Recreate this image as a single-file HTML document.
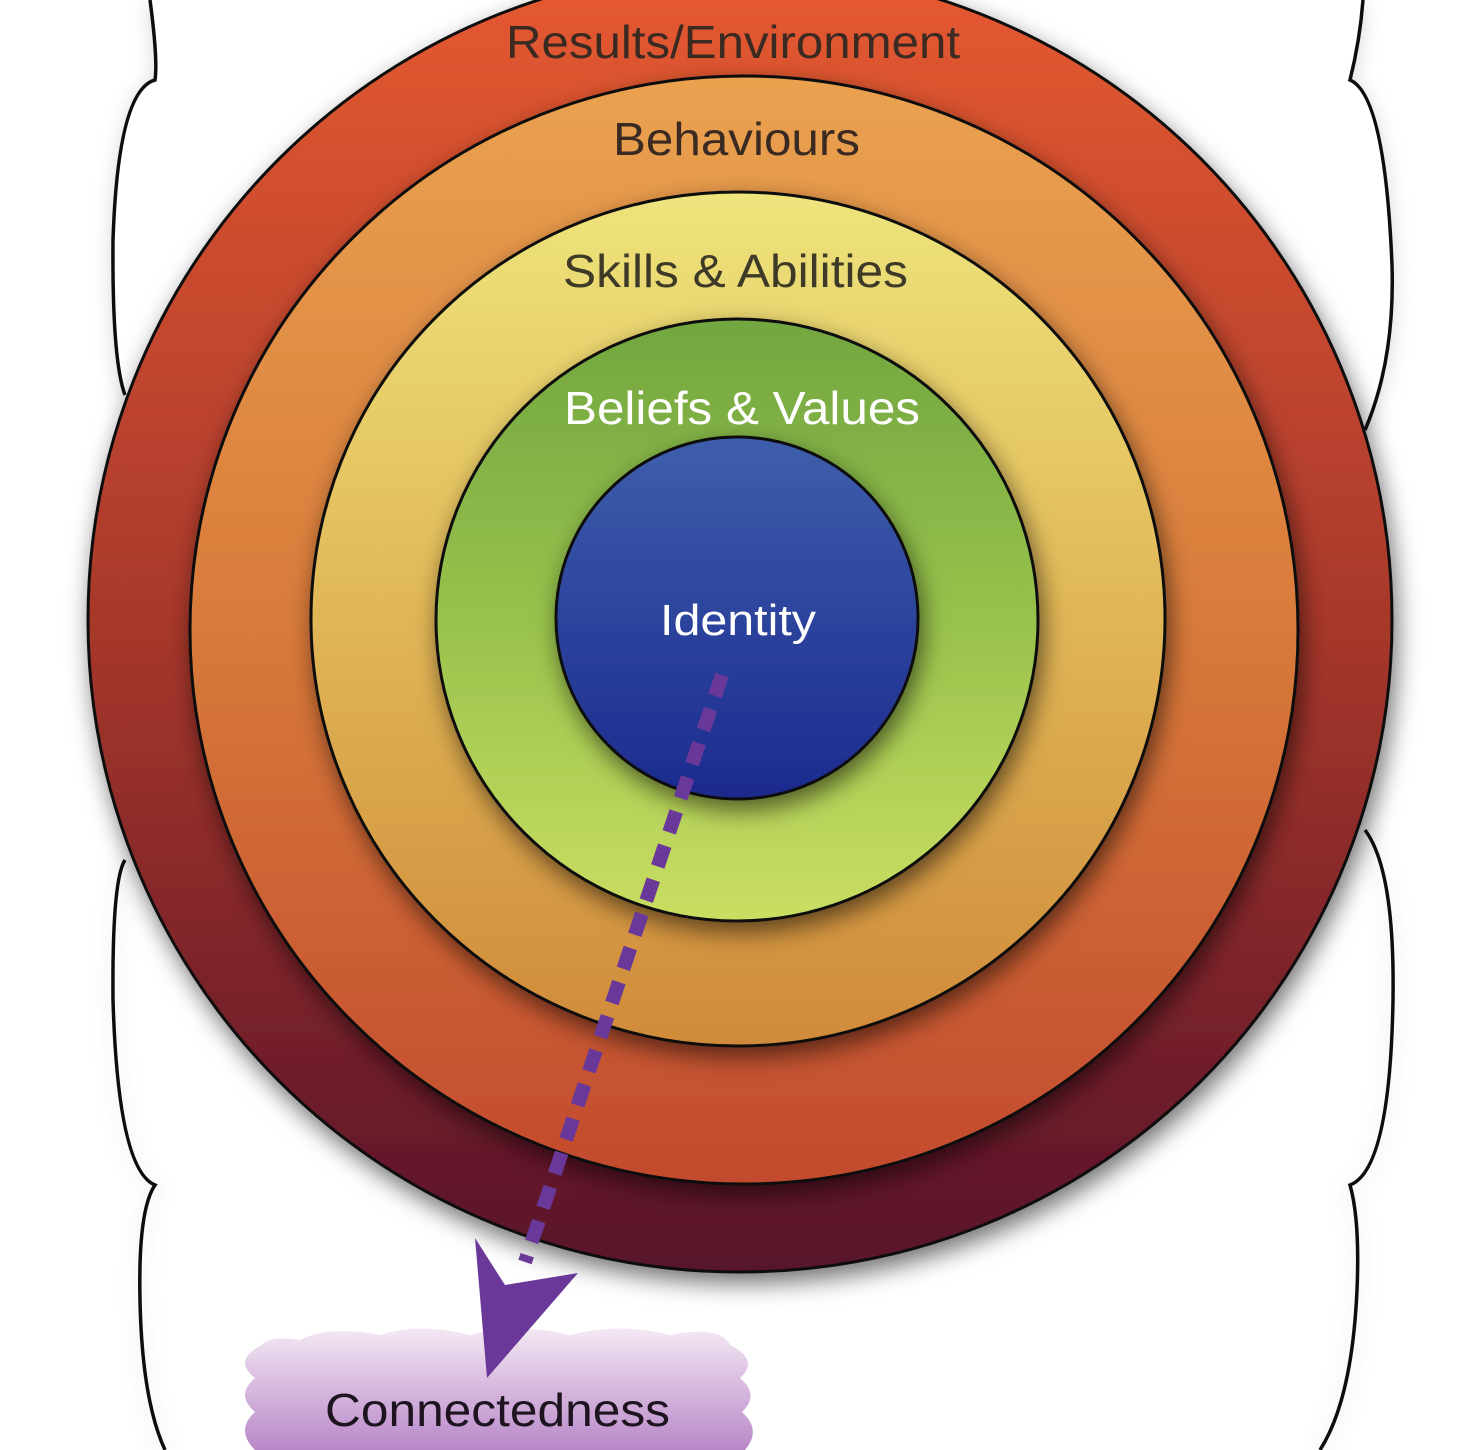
<!DOCTYPE html>
<html><head><meta charset="utf-8"><style>html,body{margin:0;padding:0;background:#fff;width:1482px;height:1450px;overflow:hidden}</style></head>
<body>
<svg width="1482" height="1450" viewBox="0 0 1482 1450" xmlns="http://www.w3.org/2000/svg" font-family="Liberation Sans, sans-serif">
<defs>
<filter id="sh" x="-20%" y="-20%" width="140%" height="140%"><feDropShadow dx="4" dy="10" stdDeviation="12" flood-color="#000" flood-opacity="0.55"/></filter>
<filter id="sh2" x="-20%" y="-20%" width="140%" height="140%"><feDropShadow dx="0" dy="4" stdDeviation="10" flood-color="#000" flood-opacity="0.15"/></filter>
<linearGradient id="g1" x1="0" y1="0" x2="0" y2="1"><stop offset="0" stop-color="#e65a30"/><stop offset="0.5" stop-color="#a8382c"/><stop offset="1" stop-color="#58122a"/></linearGradient>
<linearGradient id="g2" x1="0" y1="0" x2="0" y2="1"><stop offset="0" stop-color="#eaa250"/><stop offset="0.5" stop-color="#d87a3a"/><stop offset="1" stop-color="#c24a2e"/></linearGradient>
<linearGradient id="g3" x1="0" y1="0" x2="0" y2="1"><stop offset="0" stop-color="#eee47c"/><stop offset="0.5" stop-color="#e0b656"/><stop offset="1" stop-color="#d08a3a"/></linearGradient>
<linearGradient id="g4" x1="0" y1="0" x2="0" y2="1"><stop offset="0" stop-color="#72a640"/><stop offset="0.5" stop-color="#98c24c"/><stop offset="1" stop-color="#cade62"/></linearGradient>
<linearGradient id="g5" x1="0" y1="0" x2="0" y2="1"><stop offset="0" stop-color="#3e5eac"/><stop offset="1" stop-color="#1c2a8e"/></linearGradient>
<linearGradient id="gc" x1="0" y1="0" x2="0" y2="1"><stop offset="0" stop-color="#f4e8f4"/><stop offset="1" stop-color="#b888c8"/></linearGradient>
</defs>
<g fill="#fff" stroke="#111" stroke-width="3.5" filter="url(#sh2)">
<path d="M150,0 Q158,60 155,80 Q118,90 113,240 Q112,360 125,395 L1365,430 Q1395,360 1392,265 Q1385,95 1350,80 Q1360,40 1363,0 Z" stroke="none"/>
<path d="M150,0 Q158,60 155,80 Q118,90 113,240 Q112,360 125,395" fill="none"/>
<path d="M1363,0 Q1360,40 1350,80 Q1385,95 1392,265 Q1395,360 1365,430" fill="none"/>
<path d="M125,860 Q112,880 113,1000 Q118,1170 155,1185 Q138,1210 140,1300 Q142,1400 165,1450" fill="none"/>
<path d="M1365,830 Q1395,870 1393,1000 Q1390,1170 1350,1185 Q1360,1220 1357,1290 Q1352,1400 1320,1450" fill="none"/>
</g>
<circle cx="740" cy="620" r="652" fill="url(#g1)" stroke="#111" stroke-width="3" filter="url(#sh)"/>
<circle cx="744" cy="630" r="554" fill="url(#g2)" stroke="#111" stroke-width="3" filter="url(#sh)"/>
<circle cx="738" cy="619" r="427" fill="url(#g3)" stroke="#111" stroke-width="3" filter="url(#sh)"/>
<circle cx="737" cy="620" r="301" fill="url(#g4)" stroke="#111" stroke-width="3" filter="url(#sh)"/>
<circle cx="737" cy="618" r="181" fill="url(#g5)" stroke="#111" stroke-width="3" filter="url(#sh)"/>
<g font-size="46" lengthAdjust="spacingAndGlyphs">
<text x="506" y="58" fill="#3a2a22" textLength="454" lengthAdjust="spacingAndGlyphs">Results/Environment</text>
<text x="613" y="155" fill="#3a2a22" textLength="247" lengthAdjust="spacingAndGlyphs">Behaviours</text>
<text x="563" y="287" fill="#3e3a28" textLength="345" lengthAdjust="spacingAndGlyphs">Skills &amp; Abilities</text>
<text x="564" y="424" fill="#fff" textLength="356" lengthAdjust="spacingAndGlyphs">Beliefs &amp; Values</text>
<text x="660" y="635" fill="#fff" font-size="44" textLength="156" lengthAdjust="spacingAndGlyphs">Identity</text>
</g>
<g fill="url(#gc)">
<path d="M300,1340 Q330,1325 380,1335 Q420,1322 470,1335 Q520,1322 570,1335 Q620,1322 670,1335 Q720,1325 730,1345 Q760,1360 740,1378 Q760,1395 742,1412 Q762,1430 745,1450 L255,1450 Q235,1430 255,1412 Q235,1395 255,1378 Q232,1360 262,1345 Q270,1335 300,1340 Z"/>
</g>
<text x="325" y="1426" font-size="46" fill="#1e1420" textLength="345" lengthAdjust="spacingAndGlyphs">Connectedness</text>
<line x1="722" y1="675" x2="525" y2="1262" stroke="#6a3898" stroke-width="14" stroke-dasharray="22 14"/>
<polygon points="475,1238 505,1285 578,1273 487,1378" fill="#6a3898"/>
</svg>
</body></html>
